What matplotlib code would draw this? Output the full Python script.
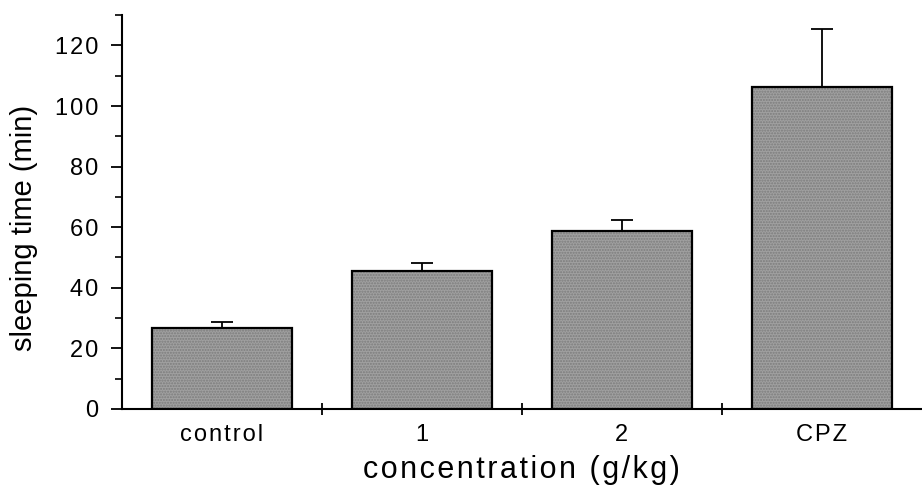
import matplotlib.pyplot as plt
from matplotlib.ticker import FuncFormatter
import numpy as np

# sleeping time per group (min), error bars are upward only
groups = ['control', '1', '2', 'CPZ']
sleep_time = [26.8, 45.5, 58.8, 106.3]
sleep_err = [1.8, 2.6, 3.7, 19.0]

plt.rcParams['font.family'] = ['Liberation Sans', 'DejaVu Sans']


def spaced(s):
    # the original uses a slightly wide letter spacing
    return '\u200a'.join(s)


fig = plt.figure(figsize=(9.22, 4.88), dpi=100)
ax = fig.add_axes([0.132, 0.162, 0.868, 0.807])

x = np.arange(len(groups))
# dotted grey fill, then black outline on top
ax.bar(x, sleep_time, width=0.7, color='#a0a0a0', edgecolor='#7c7c7c',
       linewidth=0, hatch='......', zorder=2)
ax.bar(x, sleep_time, width=0.7, fill=False, edgecolor='black',
       linewidth=1.6, zorder=3)
ax.errorbar(x, sleep_time, yerr=[np.zeros(len(x)), sleep_err], fmt='none',
            ecolor='black', elinewidth=1.3, capsize=8, capthick=1.3, zorder=1)

ax.set_xlim(-0.5, 3.5)
ax.set_ylim(0, 130)
ax.spines['top'].set_visible(False)
ax.spines['right'].set_visible(False)
ax.spines['left'].set_linewidth(1.5)
ax.spines['bottom'].set_linewidth(1.5)

ax.set_yticks(np.arange(0, 121, 20))
ax.set_yticks(np.arange(10, 131, 20), minor=True)
ax.yaxis.set_major_formatter(FuncFormatter(lambda v, p: spaced('%d' % v)))
ax.tick_params(axis='y', which='major', length=8, width=1.3, labelsize=17, pad=9)
ax.tick_params(axis='y', which='minor', length=5, width=1.2)

# category labels in the middle, tick marks between groups
ax.set_xticks(x)
ax.set_xticklabels([spaced(g) for g in groups], fontsize=17)
ax.tick_params(axis='x', which='major', length=0, pad=11)
ax.set_xticks([0.5, 1.5, 2.5], minor=True)
ax.tick_params(axis='x', which='minor', length=8, width=1.3, direction='inout')

ax.set_ylabel('sleeping time (min)', fontsize=21)
ax.yaxis.set_label_coords(-0.104, 0.46)
ax.set_xlabel(spaced('concentration (g/kg)'), fontsize=22, labelpad=6)

fig.savefig('out.png', dpi=100)
